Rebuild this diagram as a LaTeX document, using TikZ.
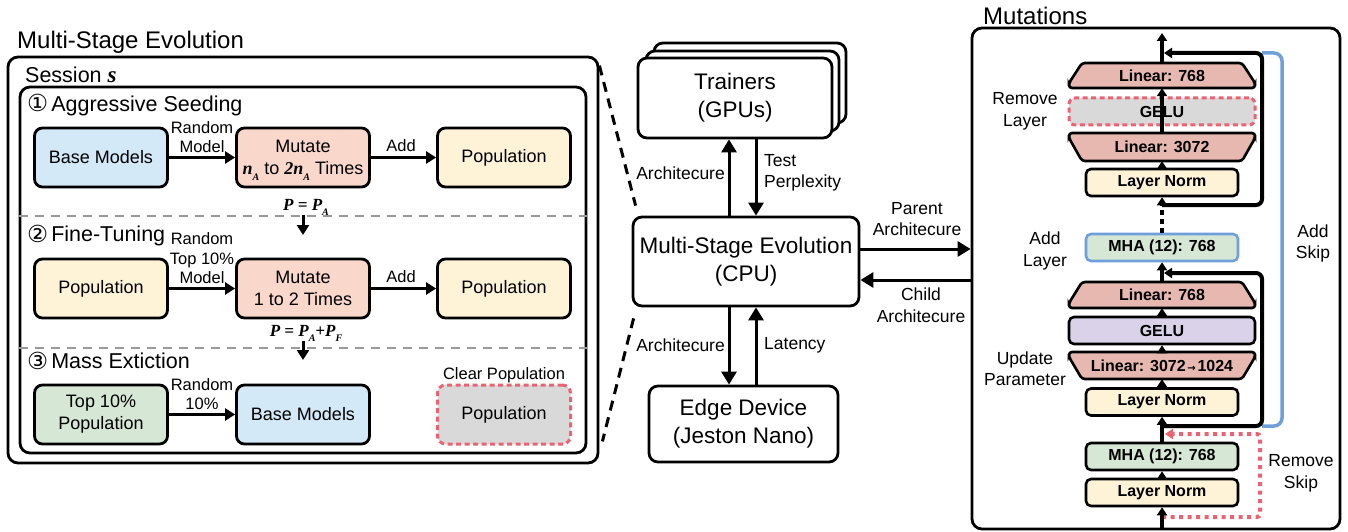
\documentclass[tikz,border=0pt]{standalone}
\usepackage{fontspec}
\setmainfont{Liberation Sans}
\newfontfamily\tnr{Liberation Serif}
\newfontfamily\dejavu{DejaVu Sans}
\usetikzlibrary{arrows.meta}

\definecolor{bluefill}{HTML}{D4E9F8}
\definecolor{mutfill}{HTML}{F9D8CB}
\definecolor{popfill}{HTML}{FEF2D7}
\definecolor{greenfill}{HTML}{D6E8D5}
\definecolor{grayfill}{HTML}{D9D9D9}
\definecolor{redline}{HTML}{EA6372}
\definecolor{linfill}{HTML}{E6B8AF}
\definecolor{gelufill}{HTML}{D9D2E9}
\definecolor{skipblue}{HTML}{6FA0DC}
\definecolor{sepgray}{HTML}{999999}

% bold italic serif symbols and their low subscripts
\newcommand\bi[1]{{\tnr\bfseries\itshape #1}}
\newcommand\lowsub[1]{\smash{\raisebox{-0.3em}{\fontsize{10}{10}\selectfont\tnr\bfseries\itshape #1}}}
\newcommand\circnum[1]{\raisebox{-1pt}{\dejavu\fontsize{23.5}{23.5}\selectfont #1}\hspace{3pt}}

% linear layers drawn as chamfered blocks: narrow top / wide top
\newcommand\trapnarrow[4]{%
  \filldraw[trap] (1082,#2) -- (1242,#2) -- (1255,{#3-5}) -- (1255,#3)
    -- (1069,#3) -- (1069,{#3-5}) -- cycle;
  \node[traptext, minimum height={#3-#2}] (#1) at (1162,{(#2+#3)/2}) {#4};}
\newcommand\trapwide[4]{%
  \filldraw[trap] (1069,#2) -- (1255,#2) -- (1255,{#2+5}) -- (1242,#3)
    -- (1082,#3) -- (1069,{#2+5}) -- cycle;
  \node[traptext, minimum height={#3-#2}] (#1) at (1162,{(#2+#3)/2}) {#4};}

\begin{document}
\begin{tikzpicture}[x=1pt,y=-1pt,
  every node/.style={inner sep=0pt},
  stagebox/.style={draw, line width=2.8pt, rounded corners=8pt, minimum width=133pt,
    minimum height=59pt, align=center, font=\fontsize{18}{22}\selectfont},
  panel/.style={draw, line width=2.8pt, rounded corners=10pt},
  title/.style={anchor=base west, font=\fontsize{24}{28}\selectfont},
  stagetitle/.style={anchor=base west, font=\fontsize{21.5}{24}\selectfont},
  lbl/.style={align=center, font=\fontsize{16.5}{19.5}\selectfont},
  midlbl/.style={align=center, font=\fontsize{17.5}{21.5}\selectfont},
  plbl/.style={font=\fontsize{17}{17}\selectfont\tnr\bfseries\itshape},
  flow/.style={line width=3pt, -{Triangle[length=10pt,width=12pt]}},
  bigflow/.style={line width=3pt, -{Triangle[length=13pt,width=15pt]}},
  sep/.style={draw=sepgray, line width=2.5pt, dash pattern=on 9pt off 7pt},
  zoomline/.style={line width=3pt, dash pattern=on 10pt off 7pt},
  midbox/.style={draw, fill=white, line width=2.8pt, rounded corners=9pt, align=center,
    font=\fontsize{22.5}{28}\selectfont},
  blk/.style={draw, line width=2.6pt, rounded corners=5pt, minimum width=152pt,
    minimum height=27pt, font=\fontsize{16}{16}\selectfont\bfseries},
  wideblk/.style={blk, minimum width=186pt},
  trap/.style={draw, fill=linfill, line width=2.6pt, rounded corners=3pt},
  traptext/.style={minimum width=186pt, font=\fontsize{16}{16}\selectfont\bfseries},
  vflow/.style={line width=4pt, -{Triangle[length=8pt,width=10pt]}},
  skipline/.style={line width=4pt, rounded corners=6pt, -{Triangle[length=8pt,width=10pt]}},
  removed/.style={draw=redline, line width=3pt, dash pattern=on 5pt off 3.5pt},
]
\useasboundingbox (0,0) rectangle (1348,532);

% ---------------- multi-stage evolution ----------------
\node[title] (msetitle) at (17,49) {Multi-Stage Evolution};
\node[panel, minimum width=590pt, minimum height=406pt] (session) at (303,260) {};
\node[panel, minimum width=566pt, minimum height=366pt] (stages) at (303,270) {};
\node[stagetitle] (sessiontitle) at (25,83) {Session {\fontsize{23}{23}\selectfont\bi{s}}};

% stage 1
\node[stagetitle] (s1title) at (27,111) {\circnum{①}Aggressive Seeding};
\node[stagebox, fill=bluefill] (base1) at (101,157.5) {Base Models};
\node[stagebox, fill=mutfill] (mut1) at (303,157.5) {Mutate\\\bi{n}\lowsub{A} to \bi{2n}\lowsub{A} Times};
\node[stagebox, fill=popfill] (pop1) at (504,157.5) {Population};
\draw[flow] (base1) -- (mut1);
\draw[flow] (mut1) -- (pop1);
\node[lbl] (l1a) at (202,137) {Random\\Model};
\node[lbl] (l1b) at (401,146) {Add};

\node[plbl] (p1) at (306,205) {P = P\lowsub{A}};
\coordinate (p1end) at (303,235);
\draw[flow] ([yshift=-4pt]p1.south -| p1end) -- (p1end);
\coordinate (sepA) at (300,216);
\draw[sep] (stages.west |- sepA) -- (stages.east |- sepA);

% stage 2
\node[stagetitle] (s2title) at (27,241) {\circnum{②}Fine-Tuning};
\node[stagebox, fill=popfill] (pop2a) at (101,288.5) {Population};
\node[stagebox, fill=mutfill] (mut2) at (303,288.5) {Mutate\\1 to 2 Times};
\node[stagebox, fill=popfill] (pop2b) at (504,288.5) {Population};
\draw[flow] (pop2a) -- (mut2);
\draw[flow] (mut2) -- (pop2b);
\node[lbl] (l2a) at (202,258.5) {Random\\Top 10\%\\Model};
\node[lbl] (l2b) at (401,277) {Add};

\node[plbl] (p2) at (306,331) {P = P\lowsub{A}+P\lowsub{F}};
\coordinate (p2end) at (303,360);
\draw[flow] ([yshift=-4pt]p2.south -| p2end) -- (p2end);
\coordinate (sepB) at (300,348);
\draw[sep] (stages.west |- sepB) -- (stages.east |- sepB);

% stage 3
\node[stagetitle] (s3title) at (27,368) {\circnum{③}Mass Extiction};
\node[stagebox, fill=greenfill] (top3) at (101,414.5) {Top 10\%\\Population};
\node[stagebox, fill=bluefill] (base3) at (303,414.5) {Base Models};
\node[stagebox, fill=grayfill, removed] (clear3) at (504,414.5) {Population};
\draw[flow] (top3) -- (base3);
\node[lbl] (l3a) at (202,394) {Random\\10\%};
\node[lbl] (l3b) at (504,375) {Clear Population};

% ---------------- system ----------------
\node[midbox, minimum width=192pt, minimum height=80pt] (tr3) at (750,83) {};
\node[midbox, minimum width=193pt, minimum height=80pt] (tr2) at (742.5,91) {};
\node[midbox, minimum width=194pt, minimum height=80pt] (trainers) at (735,98) {Trainers\\(GPUs)};
\node[midbox, minimum width=226pt, minimum height=89pt] (cpu) at (746,261.5) {Multi-Stage Evolution\\(CPU)};
\node[midbox, minimum width=189pt, minimum height=76pt] (edge) at (743.5,424) {Edge Device\\(Jeston Nano)};

\draw[zoomline] ([yshift=-10pt]session.north east) -- ([xshift=4pt,yshift=10pt]cpu.north west);
\draw[zoomline] ([xshift=2pt,yshift=-11pt]cpu.south west) -- ([xshift=3pt,yshift=23pt]session.south east);

\coordinate (colA) at (729,0);
\coordinate (colB) at (756,0);
\draw[bigflow] (cpu.north -| colA) -- (trainers.south -| colA);
\draw[bigflow] (trainers.south -| colB) -- (cpu.north -| colB);
\draw[bigflow] (cpu.south -| colA) -- (edge.north -| colA);
\draw[bigflow] (edge.north -| colB) -- (cpu.south -| colB);
\node[midlbl, anchor=east] (archup) at (725,173) {Architecure};
\node[midlbl, anchor=west, align=left] (perp) at (764,173) {Test\\Perplexity};
\node[midlbl, anchor=east] (archdown) at (725,345) {Architecure};
\node[midlbl, anchor=west] (lat) at (764,345) {Latency};

% ---------------- mutations ----------------
\node[title] (muttitle) at (983,25) {Mutations};
\node[panel, minimum width=368pt, minimum height=501pt] (mutbox) at (1156,278.5) {};

\coordinate (rowP) at (0,249);
\coordinate (rowC) at (0,280);
\draw[bigflow] (cpu.east |- rowP) -- (mutbox.west |- rowP);
\draw[bigflow] (mutbox.west |- rowC) -- (cpu.east |- rowC);
\node[midlbl] (parent) at (917,219) {Parent\\Architecure};
\node[midlbl] (child) at (921,305) {Child\\Architecure};

% skip paths behind the blocks
\coordinate (outtop) at (1162,33);
\coordinate (j1) at (1162,205);
\coordinate (j1a) at (1164,53);
\coordinate (j2) at (1162,426);
\coordinate (j2a) at (1164,273);
\coordinate (j3) at (1162,517);
\coordinate (j3a) at (1165,434);
\coordinate (inbot) at (1162,528);
\coordinate (skipx) at (1262,0);
\coordinate (bluex) at (1282,0);
\coordinate (redx) at (1260,0);

\draw[skipblue, line width=3.5pt, rounded corners=8pt]
  (j1a -| skipx) -- (j1a -| bluex) -- (j2 -| bluex) -- (j2 -| skipx);
\draw[skipline] (j1) -- (j1 -| skipx) -- (j1a -| skipx) -- (j1a);
\draw[skipline] (j2) -- (j2 -| skipx) -- (j2a -| skipx) -- (j2a);
\draw[redline, line width=4pt, dash pattern=on 4pt off 4.5pt, rounded corners=3pt,
  -{Triangle[length=8pt,width=10pt]}] (j3) -- (j3 -| redx) -- (j3a -| redx) -- (j3a);

% upper block (remove layer)
\trapnarrow{l768a}{63}{88}{Linear: 768}
\node[wideblk, fill=grayfill, removed, rounded corners=6pt] (gelux) at (1162,111.5) {GELU};
\trapwide{l3072}{133}{161}{Linear: 3072}
\node[blk, fill=popfill] (ln1) at (1162,182.5) {Layer Norm};

% added layer
\node[blk, fill=greenfill, draw=skipblue] (mhaadd) at (1162,247.5) {MHA (12): 768};

% lower block (update parameter)
\trapnarrow{l768b}{282}{308}{Linear: 768}
\node[wideblk, fill=gelufill] (gelu) at (1162,330.5) {GELU};
\trapwide{lupd}{352}{379}{Linear: 3072{\dejavu\fontsize{10}{10}\selectfont\,→\,}1024}
\node[blk, fill=popfill] (ln2) at (1162,402) {Layer Norm};
\node[blk, fill=greenfill] (mha) at (1162,456.5) {MHA (12): 768};
\node[blk, fill=popfill] (ln3) at (1162,492.5) {Layer Norm};

% main data path
\draw[vflow] (l768a.north) -- (outtop);
\draw[vflow] (l3072.north) -- (l768a.south);
\draw[vflow] (ln1.north) -- (l3072.south);
\draw[vflow] (j1) -- (ln1.south);
\draw[line width=4pt, dash pattern=on 5pt off 4pt] (mhaadd.north) -- ([yshift=-2pt]j1);
\draw[vflow] (l768b.north) -- (mhaadd.south);
\draw[vflow] (gelu.north) -- (l768b.south);
\draw[vflow] (lupd.north) -- (gelu.south);
\draw[vflow] (ln2.north) -- (lupd.south);
\draw[vflow] (mha.north) -- (ln2.south);
\draw[vflow] (ln3.north) -- (mha.south);
\draw[vflow] (inbot) -- (ln3.south);

% mutation labels
\node[midlbl] (remlayer) at (1025,111.5) {Remove\\Layer};
\node[midlbl] (addlayer) at (1045,251) {Add\\Layer};
\node[midlbl] (updparam) at (1025,368.5) {Update\\Parameter};
\node[midlbl] (addskip) at (1313,243.5) {Add\\Skip};
\node[midlbl] (remskip) at (1301,473.5) {Remove\\Skip};
\end{tikzpicture}
\end{document}
